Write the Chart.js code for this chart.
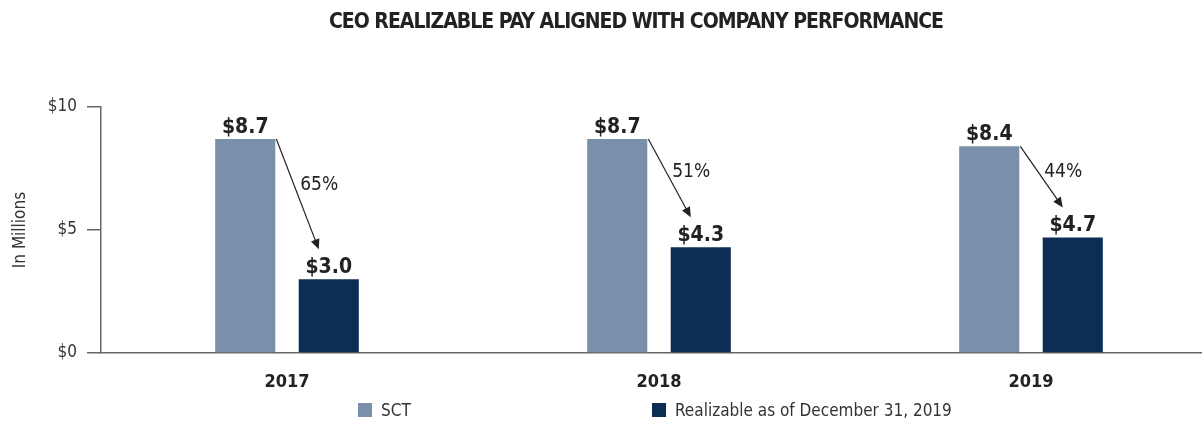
<!DOCTYPE html>
<html>
<head>
<meta charset="utf-8">
<script src="https://cdn.jsdelivr.net/npm/chart.js@4"></script>
<style>
  html, body { margin: 0; padding: 0; background: #fff; overflow: hidden; width: 1202px; height: 421px; }
  #wrap { position: relative; width: 1202px; height: 421px; }
  canvas { position: absolute; left: 0; top: 0; }
  .cond { font-family: 'Liberation Sans Narrow', 'DejaVu Sans Condensed', 'Arial Narrow', sans-serif; }
  #title { position: absolute; top: 9px; left: 0; width: 1272px; text-align: center; font-weight: bold; font-size: 21px; letter-spacing: -1px; color: #222; }
  .leg { position: absolute; top: 401px; font-size: 17px; color: #333; white-space: nowrap; line-height: 18px; }
  .leg i { display: inline-block; width: 14px; height: 14px; vertical-align: -1px; margin-right: 9px; }
</style>
</head>
<body>
<div id="wrap">
  <canvas id="payChart" width="1220" height="421"></canvas>
  <div id="title" class="cond">CEO REALIZABLE PAY ALIGNED WITH COMPANY PERFORMANCE</div>
  <div class="leg cond" style="left:358px;"><i style="background:#7a8fa9"></i>SCT</div>
  <div class="leg cond" style="left:652px;"><i style="background:#0c2d54"></i>Realizable as of December 31, 2019</div>
</div>
<script>
'use strict';

// chart data
const years = ['2017', '2018', '2019'];
const sctPay = [8.7, 8.7, 8.4];
const realizablePay = [3.0, 4.3, 4.7];
const dropLabels = ['65%', '51%', '44%'];
const yTicks = [0, 5, 10];

const FONT = "'Liberation Sans Narrow', 'DejaVu Sans Condensed', 'Arial Narrow', sans-serif";
const AXIS_COLOR = '#666';

// value labels + arrows showing the drop from SCT to realizable
const annotations = {
  id: 'annotations',
  afterDatasetsDraw(chart) {
    const ctx = chart.ctx;
    const sctBars = chart.getDatasetMeta(0).data;
    const realBars = chart.getDatasetMeta(1).data;
    ctx.save();
    ctx.fillStyle = '#222';
    ctx.textAlign = 'center';
    ctx.textBaseline = 'bottom';
    ctx.font = 'bold 21px ' + FONT;
    sctBars.forEach((b, i) => ctx.fillText('$' + sctPay[i].toFixed(1), b.x, b.y - 1));
    realBars.forEach((b, i) => ctx.fillText('$' + realizablePay[i].toFixed(1), b.x, b.y - 1));

    sctBars.forEach((b, i) => {
      const r = realBars[i];
      const x0 = b.x + b.width / 2 + 1, y0 = b.y;
      const x1 = r.x - 10, y1 = r.y - 30;
      const ang = Math.atan2(y1 - y0, x1 - x0);
      ctx.strokeStyle = '#222';
      ctx.lineWidth = 1.2;
      ctx.beginPath();
      ctx.moveTo(x0, y0);
      ctx.lineTo(x1 - 6 * Math.cos(ang), y1 - 6 * Math.sin(ang));
      ctx.stroke();
      ctx.beginPath();
      ctx.moveTo(x1, y1);
      ctx.lineTo(x1 - 10 * Math.cos(ang) + 4.5 * Math.sin(ang), y1 - 10 * Math.sin(ang) - 4.5 * Math.cos(ang));
      ctx.lineTo(x1 - 10 * Math.cos(ang) - 4.5 * Math.sin(ang), y1 - 10 * Math.sin(ang) + 4.5 * Math.cos(ang));
      ctx.closePath();
      ctx.fill();

      ctx.font = '19px ' + FONT;
      ctx.textBaseline = 'middle';
      const my = y0 + (y1 - y0) * 0.42;
      const mx = x0 + (x1 - x0) * 0.42;
      ctx.fillText(dropLabels[i], mx + 25, my);
      ctx.font = 'bold 21px ' + FONT;
      ctx.textBaseline = 'bottom';
    });
    ctx.restore();
  }
};

new Chart(document.getElementById('payChart'), {
  type: 'bar',
  data: {
    labels: years,
    datasets: [
      { label: 'SCT', data: sctPay, backgroundColor: '#7a8fa9' },
      { label: 'Realizable as of December 31, 2019', data: realizablePay, backgroundColor: '#0c2d54' }
    ]
  },
  options: {
    responsive: false,
    animation: false,
    layout: { padding: { top: 107, right: 3, bottom: 0, left: 0 } },
    datasets: { bar: { categoryPercentage: 0.449, barPercentage: 0.72 } },
    plugins: {
      legend: { display: false },
      tooltip: { enabled: false }
    },
    scales: {
      x: {
        grid: { display: false },
        border: { color: AXIS_COLOR, width: 1.5 },
        ticks: { color: '#222', padding: 11, font: { family: FONT, size: 18, weight: 'bold' } },
        afterFit(scale) { scale.height = 68; }
      },
      y: {
        min: 0,
        max: 10,
        afterBuildTicks(scale) { scale.ticks = yTicks.map(v => ({ value: v })); },
        grid: { drawOnChartArea: false, tickLength: 14, color: AXIS_COLOR, lineWidth: 1.5 },
        border: { color: AXIS_COLOR, width: 1.5 },
        ticks: { color: '#333', padding: 10, font: { family: FONT, size: 17 }, callback: v => '$' + v },
        title: { display: true, text: 'In Millions', color: '#333', font: { family: FONT, size: 17 }, padding: { top: 10, bottom: 8 } },
        afterFit(scale) { scale.width = 101; }
      }
    }
  },
  plugins: [annotations]
});
</script>
</body>
</html>
